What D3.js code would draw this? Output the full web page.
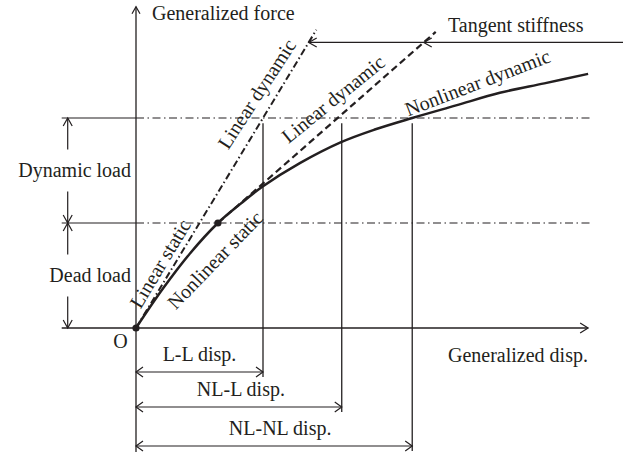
<!DOCTYPE html>
<html>
<head>
<meta charset="utf-8">
<script src="https://cdn.jsdelivr.net/npm/d3@7"></script>
<style>
  html, body { margin: 0; padding: 0; background: #fff; }
  svg { display: block; }
</style>
</head>
<body>
<div id="chart"></div>
<script>
// values
// disp measured in units of the linear static disp., force in units of the dead load
const nonlinearCurve = [
  [0, 0], [0.43, 0.38], [0.85, 0.71], [1.29, 1.0], [1.64, 1.18], [2.0, 1.35],
  [2.58, 1.57], [3.23, 1.77], [3.76, 1.89], [4.35, 2.0], [5.04, 2.12],
  [5.73, 2.24], [6.43, 2.33], [7.12, 2.42]
];
const linearLine = [[0, 0], [2.84, 2.84]];
const tangentLine = [[1.29, 1.0], [4.72, 2.82]];
const keyPoints = [[0, 0], [1.29, 1.0]];
const loadLevels = [
  { name: 'Dead load', from: 0, to: 1 },
  { name: 'Dynamic load', from: 1, to: 2 }
];
const dispResults = [
  { name: 'L-L disp.', value: 2.0 },
  { name: 'NL-L disp.', value: 3.24 },
  { name: 'NL-NL disp.', value: 4.35 }
];
const tangentStiffnessLevel = 2.72;
const axisLabels = { force: 'Generalized force', disp: 'Generalized disp.', origin: 'O' };

const width = 623, height = 455;
const ink = '#231f20';
const font = '"Liberation Serif", "DejaVu Serif", serif';

// scales (schematic, one unit of disp / force)
const x = d3.scaleLinear().domain([0, 1]).range([136, 199.5]);
const y = d3.scaleLinear().domain([0, 1]).range([328, 223]);

const svg = d3.select('#chart')
  .append('svg')
    .attr('width', width)
    .attr('height', height);

const g = svg.append('g')
  .attr('fill', 'none')
  .attr('stroke', ink);

// open arrow head, angle in degrees (0 = pointing right)
function chevron(tx, ty, angle, len = 8, half = 4.5) {
  g.append('path')
    .attr('d', `M${-len},${-half}L0,0L${-len},${half}`)
    .attr('stroke-width', 1.2)
    .attr('transform', `translate(${tx},${ty}) rotate(${angle})`);
}

function seg(x1, y1, x2, y2, w = 1.2, dash = null) {
  return g.append('line')
    .attr('x1', x1).attr('y1', y1)
    .attr('x2', x2).attr('y2', y2)
    .attr('stroke-width', w)
    .attr('stroke-dasharray', dash);
}

function label(text, px, py, anchor = 'start', angle = 0, central = false) {
  svg.append('text')
    .attr('transform', `translate(${px},${py}) rotate(${angle})`)
    .attr('text-anchor', anchor)
    .attr('dominant-baseline', central ? 'central' : null)
    .attr('font-family', font)
    .attr('font-size', 20)
    .attr('fill', ink)
    .text(text);
}

const xMin = -1.17, xMax = 7.12, yMin = -1.18, yMax = 3.06;
const dashDot = '8,3.5,1.5,3.5';

// axes
seg(x(0), y(yMin), x(0), y(yMax), 1.3);
chevron(x(0), y(yMax), -90, 7, 4);
seg(x(xMin), y(0), x(xMax), y(0), 1.3);
chevron(x(xMax), y(0), 0, 8, 5);

// load levels: solid extension left of axis, dash-dot across the plot
loadLevels.forEach(d => {
  seg(x(xMin), y(d.to), x(0), y(d.to), 1.2);
  seg(x(0), y(d.to), x(xMax + 0.03), y(d.to), 1.2, dashDot);
});

// load dimension arrows on the left
const dimX = x(xMin) + 6;
loadLevels.forEach(d => {
  const top = y(d.to), bot = y(d.from), mid = (top + bot) / 2;
  seg(dimX, top, dimX, mid - 21);
  seg(dimX, mid + 21, dimX, bot);
  chevron(dimX, top, -90, 8, 4.5);
  chevron(dimX, bot, 90, 8, 4.5);
  label(d.name, x(0) - 5, mid + 6.5, 'end');
});

// displacement results: vertical lines + dimension arrows
const rowOffsets = [44, 79, 118];
const textShift = [0, 2, 6];
dispResults.forEach((d, i) => {
  const row = y(0) + rowOffsets[i];
  seg(x(d.value), y(1.95), x(d.value), row + 5, 1.3);
  seg(x(0), row, x(d.value), row, 1.2);
  chevron(x(0), row, 180, 7, 5);
  chevron(x(d.value), row, 0, 7, 5);
  label(d.name, (x(0) + x(d.value)) / 2 + textShift[i], row - 11, 'middle');
});

// curves
const line = d3.line().x(d => x(d[0])).y(d => y(d[1]));

g.append('path')
  .datum(linearLine)
  .attr('d', line)
  .attr('stroke-width', 2)
  .attr('stroke-dasharray', '7,3,1.5,3');

g.append('path')
  .datum(tangentLine)
  .attr('d', line)
  .attr('stroke-width', 2.2)
  .attr('stroke-dasharray', '7,4');

g.append('path')
  .datum(nonlinearCurve)
  .attr('d', line.curve(d3.curveCatmullRom))
  .attr('stroke-width', 2.5);

svg.selectAll('circle.key')
  .data(keyPoints)
  .join('circle')
    .attr('class', 'key')
    .attr('cx', d => x(d[0]))
    .attr('cy', d => y(d[1]))
    .attr('r', 3.6)
    .attr('fill', ink);

// tangent stiffness marker line
const tsY = y(tangentStiffnessLevel);
const linX = x(tangentStiffnessLevel * (linearLine[1][0] / linearLine[1][1]));
const [t0, t1] = tangentLine;
const tanX = x(t0[0] + (tangentStiffnessLevel - t0[1]) * (t1[0] - t0[0]) / (t1[1] - t0[1]));
seg(linX, tsY, width, tsY, 1.3);
chevron(linX, tsY, 180, 8, 4.5);
chevron(tanX, tsY, 180, 8, 4.5);
label('Tangent stiffness', 448, tsY - 10.5);

// axis labels
label(axisLabels.force, x(0) + 16, 20);
label(axisLabels.disp, 448, y(0) + 34);
label(axisLabels.origin, x(0) - 15.5, y(0) + 20, 'middle');

// labels along the lines (centre in data units, angle in degrees)
const curveLabels = [
  { text: 'Linear static', d: 0.378, f: 0.614, a: -59 },
  { text: 'Nonlinear static', d: 1.244, f: 0.648, a: -46 },
  { text: 'Linear dynamic', d: 1.9, f: 2.23, a: -57 },
  { text: 'Linear dynamic', d: 3.102, f: 2.181, a: -39 },
  { text: 'Nonlinear dynamic', d: 5.378, f: 2.338, a: -21 }
];
curveLabels.forEach(l => label(l.text, x(l.d), y(l.f), 'middle', l.a, true));
</script>
</body>
</html>
